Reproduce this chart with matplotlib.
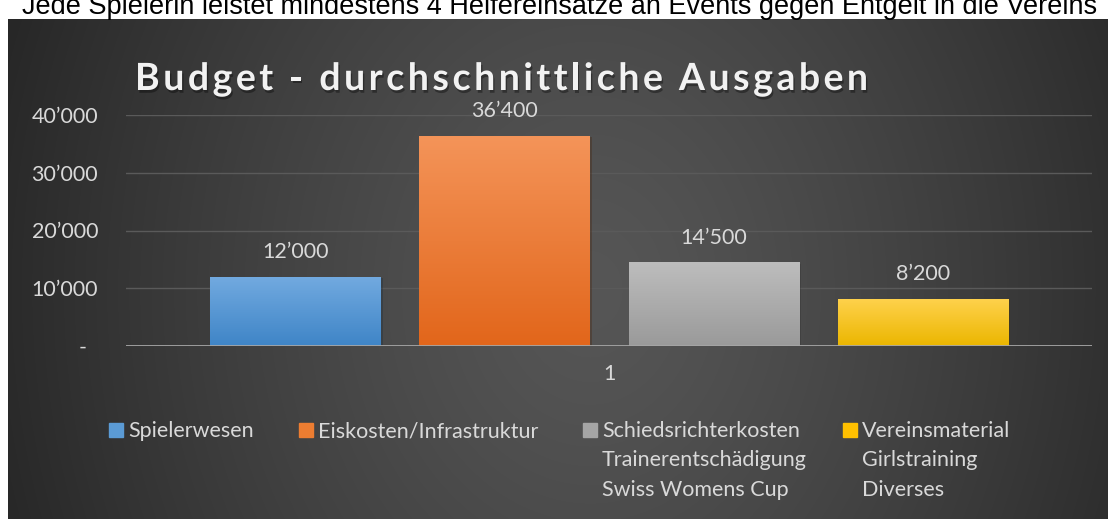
import numpy as np
import matplotlib
matplotlib.use('Agg')
import matplotlib.pyplot as plt
import matplotlib.patheffects as pe
from matplotlib.colors import LinearSegmentedColormap
from matplotlib.ticker import FuncFormatter

# data
categories = ['Spielerwesen', 'Eiskosten/Infrastruktur',
              'Schiedsrichterkosten\nTrainerentschädigung\nSwiss Womens Cup',
              'Vereinsmaterial\nGirlstraining\nDiverses']
values = [12000, 36400, 14500, 8200]
x_label = '1'
y_ticks = [0, 10000, 20000, 30000, 40000]
title = 'Budget - durchschnittliche Ausgaben'
top_note = 'Jede Spielerin leistet mindestens 4 Helfereinsätze an Events gegen Entgelt in die Vereins'

# styles
colors_top = ['#72aae0', '#f49459', '#bdbdbd', '#ffd24d']
colors_bottom = ['#3f85c7', '#e2661b', '#9a9a9a', '#ebb600']
colors_mid = ['#5b9bd5', '#ed7d31', '#a5a5a5', '#ffc000']
txt_color = '#d9d9d9'
FONT = ['Lato', 'DejaVu Sans']

W, H = 1108, 519
fig = plt.figure(figsize=(W / 100, H / 100), dpi=100, facecolor='white')


def fx(px):
    return px / W


def fy(py):
    return 1 - py / H


# dark radial background
bg = fig.add_axes([fx(8), 0, fx(W - 8), (H - 19) / H])
bg.set_axis_off()
yy, xx = np.mgrid[19:H, 8:W]
d = np.sqrt(((xx - 590) / 620.0) ** 2 + ((yy - 290) / 760.0) ** 2)
d = np.clip(d, 0, 1) ** 1.3
c0, c1 = 0x56 / 255, 0x27 / 255
g = c0 + (c1 - c0) * d
bg.imshow(np.dstack([g, g, g]), aspect='auto', extent=[0, 1, 0, 1], origin='upper')
bg.set_xlim(0, 1)
bg.set_ylim(0, 1)

# note text from the page above the chart (only its lower part is visible)
fig.text(fx(22), fy(14), top_note, fontsize=19.5, family='Liberation Sans',
         color='black', va='baseline', ha='left')

# main axes
ax = fig.add_axes([fx(126), fy(346), fx(1092 - 126), (346 - 115) / H])
ax.patch.set_alpha(0)
for s in ax.spines.values():
    s.set_visible(False)
ax.set_xlim(0, 1)
ax.set_ylim(0, 40000)

bar_w = 0.176
step = 0.2164
xs = [0.5 + (i - 1.5) * step for i in range(len(values))]
bars = ax.bar(xs, values, width=bar_w, color=colors_mid, zorder=3,
              linewidth=0)
grad = np.linspace(0, 1, 100).reshape(-1, 1)
for i, b in enumerate(bars):
    b.set_path_effects([pe.SimplePatchShadow(offset=(2, -1), alpha=0.35), pe.Normal()])
    cmap = LinearSegmentedColormap.from_list('g%d' % i, [colors_bottom[i], colors_top[i]])
    im = ax.imshow(grad, extent=[b.get_x(), b.get_x() + b.get_width(), 0, b.get_height()],
                   aspect='auto', cmap=cmap, origin='lower', zorder=3.5)
    im.set_clip_path(b)
ax.set_xlim(0, 1)
ax.set_ylim(0, 40000)

# data labels
for x, v in zip(xs, values):
    ax.annotate(f'{v:,.0f}'.replace(',', '\u2019'), (x, v), xytext=(0, 13.5),
                textcoords='offset points', ha='center', va='baseline',
                fontsize=15.5, color=txt_color, family=FONT)

# grid and axis
ax.set_yticks(y_ticks)
ax.grid(axis='y', color='#5a5a5a', linewidth=1, zorder=1)
ax.axhline(0, color='#a6a6a6', linewidth=2, zorder=5)


def fmt(v, pos):
    if v == 0:
        return '-  '
    return f'{v:,.0f}'.replace(',', '\u2019')


ax.yaxis.set_major_formatter(FuncFormatter(fmt))
ax.tick_params(axis='y', length=0, pad=20, labelsize=15.5, labelcolor=txt_color)
ax.set_xticks([0.5], [x_label])
ax.tick_params(axis='x', length=0, pad=13, labelsize=15.5, labelcolor=txt_color)
for lab in ax.get_xticklabels() + ax.get_yticklabels():
    lab.set_family(FONT)

# title with letter spacing
renderer = fig.canvas.get_renderer()
tkw = dict(fontsize=27, fontweight='bold', color='#f2f2f2', family=FONT,
           va='baseline', ha='left',
           path_effects=[pe.withSimplePatchShadow(offset=(1, -2), shadow_rgbFace='black', alpha=0.35)])
probe = fig.text(0, 0, '', **tkw)


def width_of(s):
    probe.set_text(s + '|')
    w1 = probe.get_window_extent(renderer).width
    probe.set_text('|')
    return w1 - probe.get_window_extent(renderer).width


natural = width_of(title)
spacing = (868 - 135 - natural) / (len(title) - 1)
xpos = 135.0
for k, ch in enumerate(title):
    fig.text(fx(xpos), fy(90), ch, **tkw)
    xpos = 135.0 + width_of(title[:k + 1]) + spacing * (k + 1)
probe.remove()

# legend
sq_x = [109, 299, 583, 843]
for i, lab in enumerate(categories):
    fig.patches.append(plt.Rectangle((fx(sq_x[i]), fy(437)), fx(14), 14 / H,
                                     transform=fig.transFigure, color=colors_mid[i]))
    for j, line in enumerate(lab.split('\n')):
        fig.text(fx(sq_x[i] + 19), fy(437 + j * 29.5), line, fontsize=15.5,
                 color=txt_color, family=FONT, va='baseline', ha='left')

fig.savefig('out.png', dpi=100, facecolor='white')
